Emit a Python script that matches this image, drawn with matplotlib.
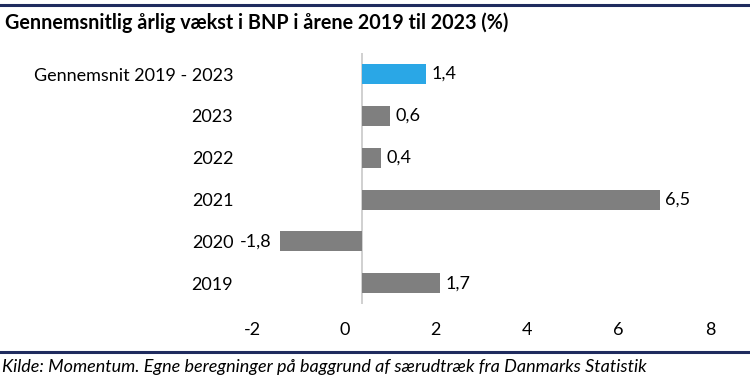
import matplotlib.pyplot as plt
import matplotlib.transforms as mtransforms
from matplotlib.lines import Line2D

plt.rcParams['font.family'] = ['Lato', 'DejaVu Sans']

# Data
categories = ["2019", "2020", "2021", "2022", "2023", "Gennemsnit 2019 - 2023"]
values = [1.7, -1.8, 6.5, 0.4, 0.6, 1.4]
labels = ["1,7", "-1,8", "6,5", "0,4", "0,6", "1,4"]
colors = ["#7f7f7f"] * 5 + ["#2aa7e6"]
xticks = [-2, 0, 2, 4, 6, 8]

fig = plt.figure(figsize=(7.5, 3.85), dpi=100)
ax = fig.add_axes([0.361, 0.21, 0.61, 0.652])

ypos = range(len(categories))
ax.barh(ypos, values, height=0.48, color=colors)
ax.set_xlim(-2, 8)
ax.set_ylim(-0.5, 5.5)
ax.axvline(0, color="#c8c8c8", lw=1.2, zorder=0)

for y, v, lab in zip(ypos, values, labels):
    if v >= 0:
        ax.annotate(lab, (v, y), xytext=(4, 0), textcoords="offset points",
                    ha="left", va="center", fontsize=13)
    else:
        ax.annotate(lab, (v, y), xytext=(-6, 0), textcoords="offset points",
                    ha="right", va="center", fontsize=13)

ax.set_yticks(list(ypos))
ax.set_yticklabels(categories, fontsize=13)
ax.tick_params(axis="y", length=0, pad=27)
ax.set_xticks(xticks)
ax.set_xticklabels([str(t) for t in xticks], fontsize=13)
ax.tick_params(axis="x", length=0, pad=13)
# tick labels sit a bit left of their values in the original
shift = mtransforms.ScaledTranslation(-18 / 100, 0, fig.dpi_scale_trans)
for t in ax.get_xticklabels():
    t.set_transform(t.get_transform() + shift)

for s in ax.spines.values():
    s.set_visible(False)

fig.text(0.007, 0.94, "Gennemsnitlig årlig vækst i BNP i årene 2019 til 2023 (%)",
         fontsize=14.2, fontweight="bold", va="center", ha="left")
fig.text(0.003, 0.048, "Kilde: Momentum. Egne beregninger på baggrund af særudtræk fra Danmarks Statistik",
         fontsize=13, style="italic", va="center", ha="left")
fig.add_artist(Line2D([0, 1], [0.987, 0.987], color="#1f2b5e", lw=2.2, transform=fig.transFigure))
fig.add_artist(Line2D([0, 1], [0.086, 0.086], color="#1f2b5e", lw=2.2, transform=fig.transFigure))

fig.savefig("out.png", dpi=100)
